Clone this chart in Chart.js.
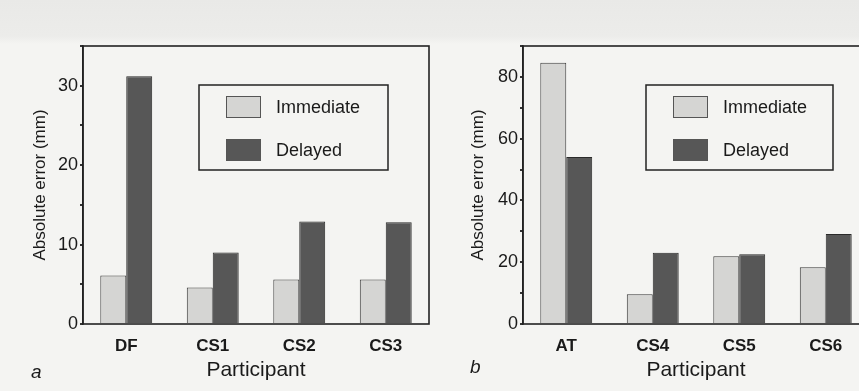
<!DOCTYPE html>
<html>
<head>
<meta charset="utf-8">
<script src="https://cdn.jsdelivr.net/npm/chart.js@4"></script>
<style>
html, body { margin: 0; padding: 0; width: 859px; height: 391px; overflow: hidden; }
body { position: relative; background: linear-gradient(#e9e9e7 0px, #ececea 36px, #f4f4f2 44px, #f4f4f2 100%); }
.panel { position: absolute; top: 0; height: 391px; }
#panel-a { left: 0; width: 430px; }
#panel-b { left: 430px; width: 440px; }
</style>
</head>
<body>
<div class="panel" id="panel-a"><canvas id="chart-a" width="430" height="391"></canvas></div>
<div class="panel" id="panel-b"><canvas id="chart-b" width="440" height="391"></canvas></div>
<script>
const seriesLabels = ["Immediate", "Delayed"];

// panel a
const participantsA = ["DF", "CS1", "CS2", "CS3"];
const immediateA = [6.1, 4.6, 5.6, 5.6];
const delayedA = [31.2, 9.0, 12.9, 12.8];
const yLabelsA = [0, 10, 20, 30];

// panel b
const participantsB = ["AT", "CS4", "CS5", "CS6"];
const immediateB = [84.6, 9.6, 21.9, 18.4];
const delayedB = [54.1, 23.1, 22.6, 29.1];
const yLabelsB = [0, 20, 40, 60, 80];

const FONT = "'Liberation Sans', Arial, sans-serif";
Chart.defaults.font.family = FONT;
Chart.defaults.color = "#1a1a1a";

// box round the plot, legend inside it, and the panel letter
const framePlugin = {
	id: "frame",
	afterDatasetsDraw(chart, args, opts) {
		const { ctx, chartArea: a } = chart;
		ctx.save();
		ctx.strokeStyle = "#222";
		ctx.lineWidth = 1.6;
		ctx.strokeRect(a.left, a.top, a.right - a.left, a.bottom - a.top);

		const bx = a.left + opts.legendX;
		const by = a.top + opts.legendY;
		ctx.lineWidth = 1.5;
		ctx.strokeRect(bx, by, opts.legendW, opts.legendH);
		chart.data.datasets.forEach((ds, i) => {
			const sy = by + 11 + i * 43;
			ctx.fillStyle = ds.backgroundColor;
			ctx.fillRect(bx + 27, sy, 35, 22);
			ctx.lineWidth = 1;
			ctx.strokeStyle = "#555";
			ctx.strokeRect(bx + 27.5, sy + 0.5, 34, 21);
			ctx.fillStyle = "#1a1a1a";
			ctx.font = "18px " + FONT;
			ctx.textBaseline = "middle";
			ctx.fillText(ds.label, bx + 77, sy + 12);
		});

		ctx.font = "italic 19px " + FONT;
		ctx.textBaseline = "alphabetic";
		ctx.fillText(opts.letter, opts.letterX, opts.letterY);
		ctx.restore();
	},
};

function makeChart(id, labels, immediate, delayed, yMax, yStep, yLabels, axisLeftPad, yWidth, frame) {
	const ctx = document.getElementById(id).getContext("2d");
	return new Chart(ctx, {
		type: "bar",
		data: {
			labels: labels,
			datasets: [
				{
					label: seriesLabels[0],
					data: immediate,
					backgroundColor: "#d5d5d3",
					borderColor: "#3a3a3a",
					borderWidth: 1,
				},
				{
					label: seriesLabels[1],
					data: delayed,
					backgroundColor: "#575757",
					borderColor: "#2a2a2a",
					borderWidth: 1,
				},
			],
		},
		options: {
			responsive: false,
			animation: false,
			layout: { padding: { left: axisLeftPad, top: 46, right: 1, bottom: 8 } },
			datasets: { bar: { barPercentage: 1, categoryPercentage: 0.6 } },
			plugins: {
				legend: { display: false },
				tooltip: { enabled: false },
				frame: frame,
			},
			scales: {
				x: {
					grid: { display: false, drawTicks: false },
					border: { display: false },
					ticks: { font: { size: 17, weight: "bold" }, padding: 12 },
					title: { display: true, text: "Participant", font: { size: 21 }, padding: 0 },
					afterFit: (scale) => { scale.height = 59; },
				},
				y: {
					min: 0,
					max: yMax,
					grid: { drawOnChartArea: false, drawTicks: true, tickLength: 3, color: "#333", lineWidth: 2 },
					border: { display: true, color: "#222", width: 1.6 },
					ticks: {
						stepSize: yStep,
						padding: 2,
						font: { size: 18 },
						callback: (value) => (yLabels.includes(value) ? value : ""),
					},
					title: { display: true, text: "Absolute error (mm)", font: { size: 17 }, padding: 0 },
					afterFit: (scale) => { scale.width = yWidth; },
				},
			},
		},
		plugins: [framePlugin],
	});
}

makeChart("chart-a", participantsA, immediateA, delayedA, 35, 5, yLabelsA, 30, 53,
	{ legendX: 116, legendY: 39, legendW: 189, legendH: 85, letter: "a", letterX: 31, letterY: 378 });
makeChart("chart-b", participantsB, immediateB, delayedB, 90, 10, yLabelsB, 38, 55,
	{ legendX: 123, legendY: 39, legendW: 187, legendH: 85, letter: "b", letterX: 40, letterY: 373 });
</script>
</body>
</html>
